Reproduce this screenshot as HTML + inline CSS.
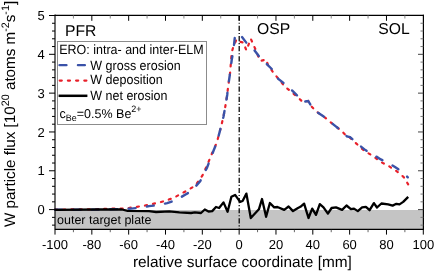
<!DOCTYPE html>
<html><head><meta charset="utf-8">
<style>
html,body{margin:0;padding:0;background:#fff;width:435px;height:272px;overflow:hidden}
svg{display:block;will-change:transform;text-rendering:geometricPrecision;font-family:"Liberation Sans",sans-serif}
</style></head><body>
<svg width="435" height="272" viewBox="0 0 435 272">
<rect x="55" y="210" width="368" height="19" fill="#c4c4c4"/>
<text x="57" y="224.3" font-size="12.5" fill="#000">outer target plate</text>
<path d="M55.0,209.6 L99.0,209.2 L110.5,208.6 L125.4,208.6 L132.3,207.4 L142.7,206.0 L148.4,204.8 L158.1,202.8 L165.7,200.7 L174.0,197.7 L180.9,193.8 L187.8,190.2 L195.3,185.5 L202.5,175.4 L207.0,165.5 L211.6,154.4 L216.8,142.5 L220.1,130.3 L223.4,117.0 L225.4,106.0 L227.2,95.0 L228.0,87.5 L230.1,73.0 L231.7,52.5 L233.4,46.4 L236.5,39.5 L238.3,41.4 L243.3,42.5 L246.4,50.4 L250.8,38.8 L255.2,48.7 L258.5,57.0 L260.5,61.0 L266.0,59.4 L268.2,65.4 L273.7,73.0 L284.7,86.4 L298.0,97.4 L302.7,102.0 L308.2,101.0 L311.6,106.6 L317.0,112.0 L323.7,116.5 L330.3,122.0 L335.8,126.4 L341.4,130.8 L346.9,136.4 L350.0,137.7 L364.0,150.6 L373.0,156.0 L380.8,162.0 L388.6,166.0 L396.3,171.0 L401.4,175.0 L404.0,177.5 L408.2,184.4" fill="none" stroke="#e8202a" stroke-width="2.2" stroke-linecap="round" stroke-dasharray="2.1,6.1"/>
<path d="M55.0,209.8 L99.0,209.6 L116.2,209.1 L120.8,209.3 L131.2,208.6 L139.2,207.8 L149.0,206.1 L158.1,205.1 L167.2,203.1 L175.8,200.2 L186.0,194.2 L191.6,191.0 L200.3,181.0 L207.0,167.7 L213.8,150.0 L216.8,142.5 L220.1,130.3 L223.4,117.0 L225.4,106.0 L227.2,95.0 L228.0,87.5 L230.1,73.0 L231.7,60.0 L233.4,50.8 L235.0,35.6 L238.3,33.6 L241.6,36.6 L247.2,43.8 L254.1,49.8 L259.6,57.0 L267.0,64.3 L272.6,69.8 L278.0,78.6 L283.6,83.0 L290.2,88.6 L298.0,96.3 L302.7,102.0 L308.2,101.0 L311.6,106.6 L317.0,112.0 L323.7,116.5 L330.3,122.0 L335.8,126.4 L341.4,130.8 L346.9,136.4 L350.0,137.0 L357.7,143.9 L365.4,150.1 L374.4,155.4 L380.8,159.4 L388.6,163.2 L395.0,167.0 L402.7,172.2 L407.8,177.3" fill="none" stroke="#3a52a8" stroke-width="2.4" stroke-linecap="round" stroke-dasharray="7,11.4"/>
<path d="M55.0,209.8 L99.0,209.5 L122.0,209.5 L127.7,210.9 L149.0,211.2 L156.1,212.0 L169.3,211.4 L179.4,212.4 L191.0,213.0 L194.8,212.4 L201.0,213.0 L204.8,209.5 L208.5,211.5 L212.2,211.1 L216.0,207.0 L219.1,208.0 L223.5,202.4 L227.6,211.8 L231.4,196.8 L235.1,194.9 L240.1,201.8 L242.6,201.0 L246.4,193.6 L250.8,218.0 L258.9,209.3 L262.0,199.0 L266.1,216.8 L269.9,203.0 L274.2,207.4 L277.4,207.0 L284.2,209.9 L288.6,206.5 L293.0,211.1 L298.0,208.0 L300.4,206.8 L304.1,203.6 L308.5,218.0 L312.2,208.6 L316.0,214.9 L319.8,204.2 L323.5,207.4 L327.9,213.6 L331.6,208.0 L336.0,207.4 L342.1,209.9 L346.5,205.5 L350.9,209.2 L354.0,208.6 L357.8,211.1 L362.1,207.4 L365.9,206.8 L369.6,210.2 L373.9,203.1 L377.0,207.5 L381.4,203.5 L388.2,204.4 L392.6,205.6 L396.4,203.8 L399.5,204.4 L403.2,201.9 L408.2,196.9" fill="none" stroke="#000" stroke-width="2.3" stroke-linejoin="round"/>
<g stroke="#000" fill="none">
<line x1="55" y1="15.35" x2="424" y2="15.35" stroke-width="1.25"/>
<line x1="423.4" y1="14.75" x2="423.4" y2="229.9" stroke-width="1.2"/>
<line x1="55" y1="229.4" x2="423" y2="229.4" stroke-width="1.1"/>
<line x1="55" y1="14.6" x2="55" y2="229.9" stroke-width="1.15"/>
</g>
<g stroke="#000" stroke-width="1">
<line x1="55.00" y1="229.9" x2="55.00" y2="234.6"/>
<line x1="73.41" y1="229.9" x2="73.41" y2="232.20000000000002" stroke="#666"/>
<line x1="91.83" y1="229.9" x2="91.83" y2="234.6"/>
<line x1="110.25" y1="229.9" x2="110.25" y2="232.20000000000002" stroke="#666"/>
<line x1="128.66" y1="229.9" x2="128.66" y2="234.6"/>
<line x1="147.07" y1="229.9" x2="147.07" y2="232.20000000000002" stroke="#666"/>
<line x1="165.49" y1="229.9" x2="165.49" y2="234.6"/>
<line x1="183.91" y1="229.9" x2="183.91" y2="232.20000000000002" stroke="#666"/>
<line x1="202.32" y1="229.9" x2="202.32" y2="234.6"/>
<line x1="220.74" y1="229.9" x2="220.74" y2="232.20000000000002" stroke="#666"/>
<line x1="239.15" y1="229.9" x2="239.15" y2="234.6"/>
<line x1="257.56" y1="229.9" x2="257.56" y2="232.20000000000002" stroke="#666"/>
<line x1="275.98" y1="229.9" x2="275.98" y2="234.6"/>
<line x1="294.39" y1="229.9" x2="294.39" y2="232.20000000000002" stroke="#666"/>
<line x1="312.81" y1="229.9" x2="312.81" y2="234.6"/>
<line x1="331.23" y1="229.9" x2="331.23" y2="232.20000000000002" stroke="#666"/>
<line x1="349.64" y1="229.9" x2="349.64" y2="234.6"/>
<line x1="368.06" y1="229.9" x2="368.06" y2="232.20000000000002" stroke="#666"/>
<line x1="386.47" y1="229.9" x2="386.47" y2="234.6"/>
<line x1="404.88" y1="229.9" x2="404.88" y2="232.20000000000002" stroke="#666"/>
<line x1="423.30" y1="229.9" x2="423.30" y2="234.6"/>
<line x1="73.41" y1="15.5" x2="73.41" y2="18.5" stroke="#888"/>
<line x1="91.83" y1="15.5" x2="91.83" y2="20.8"/>
<line x1="110.25" y1="15.5" x2="110.25" y2="18.5" stroke="#888"/>
<line x1="128.66" y1="15.5" x2="128.66" y2="20.8"/>
<line x1="147.07" y1="15.5" x2="147.07" y2="18.5" stroke="#888"/>
<line x1="165.49" y1="15.5" x2="165.49" y2="20.8"/>
<line x1="183.91" y1="15.5" x2="183.91" y2="18.5" stroke="#888"/>
<line x1="202.32" y1="15.5" x2="202.32" y2="20.8"/>
<line x1="220.74" y1="15.5" x2="220.74" y2="18.5" stroke="#888"/>
<line x1="239.15" y1="15.5" x2="239.15" y2="20.8"/>
<line x1="257.56" y1="15.5" x2="257.56" y2="18.5" stroke="#888"/>
<line x1="275.98" y1="15.5" x2="275.98" y2="20.8"/>
<line x1="294.39" y1="15.5" x2="294.39" y2="18.5" stroke="#888"/>
<line x1="312.81" y1="15.5" x2="312.81" y2="20.8"/>
<line x1="331.23" y1="15.5" x2="331.23" y2="18.5" stroke="#888"/>
<line x1="349.64" y1="15.5" x2="349.64" y2="20.8"/>
<line x1="368.06" y1="15.5" x2="368.06" y2="18.5" stroke="#888"/>
<line x1="386.47" y1="15.5" x2="386.47" y2="20.8"/>
<line x1="404.88" y1="15.5" x2="404.88" y2="18.5" stroke="#888"/>
<line x1="52.0" y1="225.13" x2="55.0" y2="225.13"/>
<line x1="52.0" y1="217.36" x2="55.0" y2="217.36"/>
<line x1="49.0" y1="209.60" x2="55.0" y2="209.60"/>
<line x1="52.0" y1="201.84" x2="55.0" y2="201.84"/>
<line x1="52.0" y1="194.07" x2="55.0" y2="194.07"/>
<line x1="52.0" y1="186.31" x2="55.0" y2="186.31"/>
<line x1="52.0" y1="178.54" x2="55.0" y2="178.54"/>
<line x1="49.0" y1="170.78" x2="55.0" y2="170.78"/>
<line x1="52.0" y1="163.02" x2="55.0" y2="163.02"/>
<line x1="52.0" y1="155.25" x2="55.0" y2="155.25"/>
<line x1="52.0" y1="147.49" x2="55.0" y2="147.49"/>
<line x1="52.0" y1="139.72" x2="55.0" y2="139.72"/>
<line x1="49.0" y1="131.96" x2="55.0" y2="131.96"/>
<line x1="52.0" y1="124.20" x2="55.0" y2="124.20"/>
<line x1="52.0" y1="116.43" x2="55.0" y2="116.43"/>
<line x1="52.0" y1="108.67" x2="55.0" y2="108.67"/>
<line x1="52.0" y1="100.90" x2="55.0" y2="100.90"/>
<line x1="49.0" y1="93.14" x2="55.0" y2="93.14"/>
<line x1="52.0" y1="85.38" x2="55.0" y2="85.38"/>
<line x1="52.0" y1="77.61" x2="55.0" y2="77.61"/>
<line x1="52.0" y1="69.85" x2="55.0" y2="69.85"/>
<line x1="52.0" y1="62.08" x2="55.0" y2="62.08"/>
<line x1="49.0" y1="54.32" x2="55.0" y2="54.32"/>
<line x1="52.0" y1="46.56" x2="55.0" y2="46.56"/>
<line x1="52.0" y1="38.79" x2="55.0" y2="38.79"/>
<line x1="52.0" y1="31.03" x2="55.0" y2="31.03"/>
<line x1="52.0" y1="23.26" x2="55.0" y2="23.26"/>
<line x1="49.0" y1="15.50" x2="55.0" y2="15.50"/>
<line x1="420.5" y1="225.13" x2="423.3" y2="225.13" stroke="#777"/>
<line x1="420.5" y1="217.36" x2="423.3" y2="217.36" stroke="#777"/>
<line x1="418.0" y1="209.60" x2="423.3" y2="209.60" stroke="#444"/>
<line x1="420.5" y1="201.84" x2="423.3" y2="201.84" stroke="#777"/>
<line x1="420.5" y1="194.07" x2="423.3" y2="194.07" stroke="#777"/>
<line x1="420.5" y1="186.31" x2="423.3" y2="186.31" stroke="#777"/>
<line x1="420.5" y1="178.54" x2="423.3" y2="178.54" stroke="#777"/>
<line x1="418.0" y1="170.78" x2="423.3" y2="170.78" stroke="#444"/>
<line x1="420.5" y1="163.02" x2="423.3" y2="163.02" stroke="#777"/>
<line x1="420.5" y1="155.25" x2="423.3" y2="155.25" stroke="#777"/>
<line x1="420.5" y1="147.49" x2="423.3" y2="147.49" stroke="#777"/>
<line x1="420.5" y1="139.72" x2="423.3" y2="139.72" stroke="#777"/>
<line x1="418.0" y1="131.96" x2="423.3" y2="131.96" stroke="#444"/>
<line x1="420.5" y1="124.20" x2="423.3" y2="124.20" stroke="#777"/>
<line x1="420.5" y1="116.43" x2="423.3" y2="116.43" stroke="#777"/>
<line x1="420.5" y1="108.67" x2="423.3" y2="108.67" stroke="#777"/>
<line x1="420.5" y1="100.90" x2="423.3" y2="100.90" stroke="#777"/>
<line x1="418.0" y1="93.14" x2="423.3" y2="93.14" stroke="#444"/>
<line x1="420.5" y1="85.38" x2="423.3" y2="85.38" stroke="#777"/>
<line x1="420.5" y1="77.61" x2="423.3" y2="77.61" stroke="#777"/>
<line x1="420.5" y1="69.85" x2="423.3" y2="69.85" stroke="#777"/>
<line x1="420.5" y1="62.08" x2="423.3" y2="62.08" stroke="#777"/>
<line x1="418.0" y1="54.32" x2="423.3" y2="54.32" stroke="#444"/>
<line x1="420.5" y1="46.56" x2="423.3" y2="46.56" stroke="#777"/>
<line x1="420.5" y1="38.79" x2="423.3" y2="38.79" stroke="#777"/>
<line x1="420.5" y1="31.03" x2="423.3" y2="31.03" stroke="#777"/>
<line x1="420.5" y1="23.26" x2="423.3" y2="23.26" stroke="#777"/>
</g>
<rect x="57.5" y="41.5" width="149" height="83" fill="#fff" stroke="#8c8c8c" stroke-width="1"/>
<g font-size="13.3" fill="#000">
<text x="59.2" y="53.8" textLength="144.5" lengthAdjust="spacingAndGlyphs">ERO: intra- and inter-ELM</text>
<text x="90.3" y="69.6" textLength="90.3" lengthAdjust="spacingAndGlyphs">W gross erosion</text>
<text x="90.3" y="84.4" textLength="72.3" lengthAdjust="spacingAndGlyphs">W deposition</text>
<text x="90.3" y="99.8" textLength="77.1" lengthAdjust="spacingAndGlyphs">W net erosion</text>
<text x="59.5" y="117.5" font-size="12.8" textLength="82.1" lengthAdjust="spacingAndGlyphs">c<tspan font-size="9.2" dy="3">Be</tspan><tspan dy="-3">=0.5% Be</tspan><tspan font-size="9.2" dy="-5.2">2+</tspan></text>
</g>
<line x1="59.5" y1="65.2" x2="87" y2="65.2" stroke="#3a52a8" stroke-width="2.3" stroke-linecap="round" stroke-dasharray="7,11.4"/>
<line x1="59.7" y1="80.6" x2="87" y2="80.6" stroke="#e8202a" stroke-width="2.2" stroke-linecap="round" stroke-dasharray="2.1,6.1"/>
<line x1="58.6" y1="95.8" x2="87.4" y2="95.8" stroke="#000" stroke-width="2.5"/>
<g font-size="15.7" fill="#000">
<text x="65" y="36">PFR</text>
<text x="257.1" y="34">OSP</text>
<text x="378.3" y="34">SOL</text>
</g>
<line x1="239.2" y1="15.67" x2="239.2" y2="229" stroke="#000" stroke-width="1.25" stroke-dasharray="5.2,1.9,1.1,1.93"/>
<g font-size="13" fill="#000" text-anchor="middle">
<text x="55.00" y="249">-100</text>
<text x="91.83" y="249">-80</text>
<text x="128.66" y="249">-60</text>
<text x="165.49" y="249">-40</text>
<text x="202.32" y="249">-20</text>
<text x="239.15" y="249">0</text>
<text x="275.98" y="249">20</text>
<text x="312.81" y="249">40</text>
<text x="349.64" y="249">60</text>
<text x="386.47" y="249">80</text>
<text x="423.30" y="249">100</text>
</g>
<g font-size="13" fill="#000" text-anchor="end">
<text x="44.8" y="214.20">0</text>
<text x="44.8" y="175.38">1</text>
<text x="44.8" y="136.56">2</text>
<text x="44.8" y="97.74">3</text>
<text x="44.8" y="58.92">4</text>
<text x="44.8" y="20.10">5</text>
</g>
<text x="242.4" y="266.8" font-size="15.4" text-anchor="middle">relative surface coordinate [mm]</text>
<text transform="translate(14.8,227) rotate(-90)" font-size="15.2">W particle flux [10<tspan font-size="10.8" dy="-5.8">20</tspan><tspan dy="5.8"> atoms m</tspan><tspan font-size="10.8" dy="-5.8">-2</tspan><tspan dy="5.8">s</tspan><tspan font-size="10.8" dy="-5.8">-1</tspan><tspan dy="5.8">]</tspan></text>
</svg>
</body></html>
